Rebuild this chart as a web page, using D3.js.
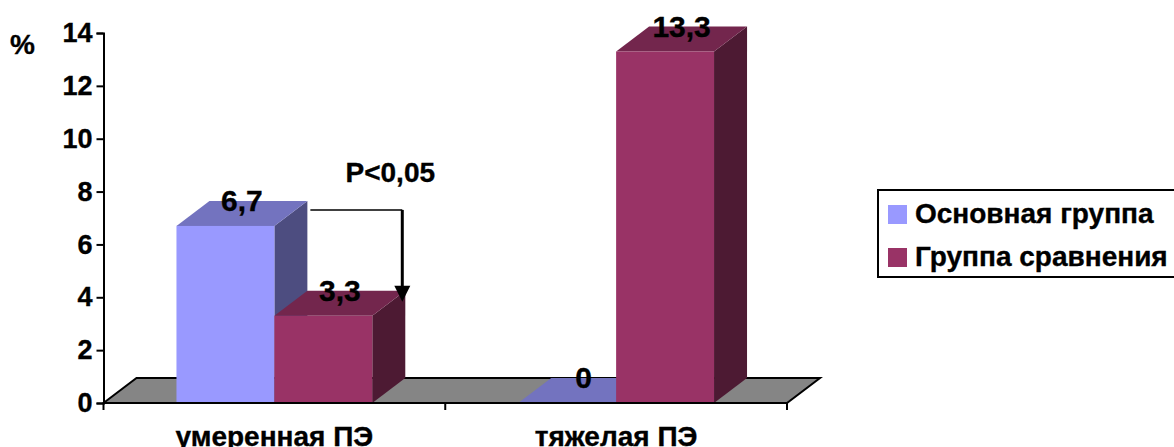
<!DOCTYPE html>
<html>
<head>
<meta charset="utf-8">
<script src="https://cdn.jsdelivr.net/npm/d3@7/dist/d3.min.js"></script>
<style>
  html, body { margin: 0; padding: 0; background: #fff; overflow: hidden; }
  text { font-family: "Liberation Sans", Arial, sans-serif; font-weight: bold; fill: #000; stroke: #000; stroke-width: 0.35px; }
</style>
</head>
<body>
<svg id="chart" width="1174" height="447"></svg>
<script>
// Pre-eclampsia incidence by severity and study group
const categories = ["умеренная ПЭ", "тяжелая ПЭ"];
const seriesNames = ["Основная группа", "Группа сравнения"];
const mainGroup = [6.7, 0];
const comparisonGroup = [3.3, 13.3];
const valueLabels = [["6,7", "0"], ["3,3", "13,3"]];
const yTicks = [0, 2, 4, 6, 8, 10, 12, 14];
const unitLabel = "%";
const noteLabel = "P<0,05";

const frontColors = ["#9999ff", "#993366"];
const topColors = ["#7373bf", "#73264d"];
const sideColors = ["#4d4d80", "#4d1a33"];

const svg = d3.select("#chart");
const depth = { x: 33, y: -25 };

const x = d3.scaleBand().domain(categories).range([103.5, 787]).paddingInner(0.427).paddingOuter(0.2135);
const xSeries = d3.scaleBand().domain(seriesNames).range([0, x.bandwidth()]);
const y = d3.scaleLinear().domain([0, 14]).range([403, 33]);

const poly = pts => pts.map(p => p.join(",")).join(" ");

// Chart floor in oblique projection
const x0 = x.range()[0], x1 = x.range()[1], y0 = y(0);
svg.append("polygon")
  .attr("points", poly([[x0, y0], [x0 + depth.x, y0 + depth.y], [x1 + depth.x, y0 + depth.y], [x1, y0]]))
  .attr("fill", "#858585").attr("stroke", "#000").attr("stroke-width", 2);

// Flatten the two series into bars, left to right
const bars = [];
categories.forEach((c, i) => {
  seriesNames.forEach((s, j) => {
    const value = (j === 0 ? mainGroup : comparisonGroup)[i];
    bars.push({ c, s, j, value, label: valueLabels[j][i] });
  });
});

const g = svg.append("g").selectAll("g").data(bars).join("g");
g.each(function (d) {
  const left = x(d.c) + xSeries(d.s), right = left + xSeries.bandwidth();
  const top = y(d.value), base = y(0);
  const sel = d3.select(this);
  sel.append("polygon")
    .attr("points", poly([[right, top], [right + depth.x, top + depth.y], [right + depth.x, base + depth.y], [right, base]]))
    .attr("fill", sideColors[d.j]);
  sel.append("polygon")
    .attr("points", poly([[left, top], [left + depth.x, top + depth.y], [right + depth.x, top + depth.y], [right, top]]))
    .attr("fill", topColors[d.j]);
  sel.append("rect")
    .attr("x", left).attr("y", top).attr("width", right - left).attr("height", base - top)
    .attr("fill", frontColors[d.j]);
});

// Front floor edge redrawn over the bars
svg.append("line").attr("x1", x0).attr("x2", x1).attr("y1", y0).attr("y2", y0)
  .attr("stroke", "#000").attr("stroke-width", 2);

// Axes
const yAxis = svg.append("g").attr("transform", `translate(${x0},0)`)
  .call(d3.axisLeft(y).tickValues(yTicks).tickSize(7).tickPadding(4));
yAxis.selectAll("path, line").attr("stroke", "#000").attr("stroke-width", 2);
yAxis.selectAll("text").style("font-size", "27px").style("font-family", null);

const step = x.step();
const xEdges = [x0, x0 + step, x0 + 2 * step];
svg.append("g").selectAll("line").data(xEdges).join("line")
  .attr("x1", d => d).attr("x2", d => d).attr("y1", y0).attr("y2", y0 + 7)
  .attr("stroke", "#000").attr("stroke-width", 2);

svg.append("g").selectAll("text").data(categories).join("text")
  .attr("x", d => x(d) + x.bandwidth() / 2)
  .attr("y", 446)
  .attr("text-anchor", "middle")
  .style("font-size", "28px")
  .text(d => d);

// Value labels sit on the top face of each bar
svg.append("g").selectAll("text").data(bars).join("text")
  .attr("x", d => x(d.c) + xSeries(d.s) + xSeries.bandwidth() / 2 + depth.x / 2)
  .attr("y", d => y(d.value) - 15)
  .attr("text-anchor", "middle")
  .style("font-size", "30px")
  .text(d => d.label);

svg.append("text").attr("x", 10).attr("y", 54).style("font-size", "28px").text(unitLabel);

// Significance bracket between the two moderate-severity bars
const firstBarRight = x(categories[0]) + xSeries(seriesNames[0]) + xSeries.bandwidth() + depth.x;
const secondBarRight = x(categories[0]) + xSeries(seriesNames[1]) + xSeries.bandwidth() + depth.x - 3;
const bracketY = y(mainGroup[0]) + depth.y + 9;
const arrowTip = y(comparisonGroup[0]) + depth.y + 11;
svg.append("line").attr("x1", firstBarRight + 3).attr("x2", secondBarRight).attr("y1", bracketY).attr("y2", bracketY)
  .attr("stroke", "#000").attr("stroke-width", 1.5);
svg.append("line").attr("x1", secondBarRight).attr("x2", secondBarRight).attr("y1", bracketY).attr("y2", arrowTip - 10)
  .attr("stroke", "#000").attr("stroke-width", 3);
svg.append("path")
  .attr("d", d3.line()([[secondBarRight - 8, arrowTip - 16], [secondBarRight + 8, arrowTip - 16], [secondBarRight, arrowTip]]))
  .attr("fill", "#000");
svg.append("text").attr("x", secondBarRight - 12).attr("y", 182).attr("text-anchor", "middle")
  .style("font-size", "28px").text(noteLabel);

// Legend box runs off the right edge
const legend = svg.append("g");
legend.append("rect").attr("x", 878).attr("y", 190).attr("width", 310).attr("height", 87)
  .attr("fill", "#fff").attr("stroke", "#000").attr("stroke-width", 2);
const rows = legend.selectAll("g").data(seriesNames).join("g")
  .attr("transform", (d, i) => `translate(0,${205 + i * 43})`);
rows.append("rect").attr("x", 888).attr("width", 19).attr("height", 19).attr("fill", (d, i) => frontColors[i]);
rows.append("text").attr("x", 915).attr("y", 18).style("font-size", "28px").text(d => d);
</script>
</body>
</html>
